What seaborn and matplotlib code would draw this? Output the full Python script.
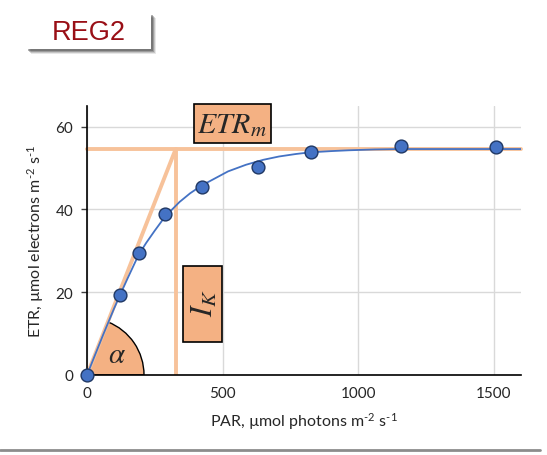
import matplotlib
matplotlib.use("Agg")
import matplotlib.pyplot as plt
import matplotlib.transforms as mtrans
from matplotlib.patches import Rectangle, Wedge
from matplotlib.lines import Line2D
import numpy as np
import pandas as pd
import seaborn as sns

# measured points
par = [0, 123, 190, 288, 423, 631, 824, 1157, 1506]
etr = [0, 19.3, 29.6, 39.0, 45.4, 50.3, 53.9, 55.3, 55.0]

# fitted curve
par_fit = [0, 30, 60, 100, 123, 150, 190, 218, 250, 288, 341, 380, 423, 463,
           520, 586, 650, 708, 770, 822, 900, 965, 1060, 1157, 1334, 1600]
etr_fit = [0, 4.9, 9.8, 16.1, 19.5, 23.4, 29.0, 31.9, 34.9, 38.3, 41.8, 43.9,
           45.8, 47.2, 49.2, 50.8, 52.0, 52.8, 53.4, 53.8, 54.1, 54.3, 54.5,
           54.6, 54.6, 54.6]

etr_max = 54.6
i_k = 327

ORANGE = '#F4B183'
LINE_OR = '#F7C29A'
BLUE = '#4472C4'

sns.set_theme(style='white')
plt.rcParams['font.family'] = ['Lato', 'DejaVu Sans']
plt.rcParams['mathtext.fontset'] = 'custom'
plt.rcParams['mathtext.rm'] = 'Lato'
plt.rcParams['mathtext.it'] = 'Lato:italic'

fig = plt.figure(figsize=(5.47, 4.56), dpi=100)
W, H = 547, 456
ax = fig.add_axes([87 / W, 1 - 376 / H, (521 - 87) / W, (376 - 107) / H])

# alpha / Ik / ETRm construction lines
ax.plot([0, i_k], [0, etr_max], color=LINE_OR, lw=2.8, zorder=2, solid_capstyle='butt')
ax.plot([0, 1600], [etr_max, etr_max], color=LINE_OR, lw=2.8, zorder=2, clip_on=False)
ax.plot([i_k, i_k], [0, etr_max], color=LINE_OR, lw=2.8, zorder=2)

# fitted curve and points
fit = pd.DataFrame({'PAR': par_fit, 'ETR': etr_fit})
sns.lineplot(data=fit, x='PAR', y='ETR', ax=ax, color=BLUE, lw=1.3, zorder=3)
pts = pd.DataFrame({'PAR': par, 'ETR': etr})
sns.scatterplot(data=pts, x='PAR', y='ETR', ax=ax, color=BLUE, edgecolor='#203864',
                linewidth=1, s=85, zorder=4, clip_on=False)

ax.set_xlim(0, 1600)
ax.set_ylim(0, 65)
ax.set_xticks([0, 500, 1000, 1500])
ax.set_yticks([0, 20, 40, 60])
ax.grid(True, color='#D9D9D9', lw=1)
ax.set_axisbelow(True)
for s in ['top', 'right']:
    ax.spines[s].set_visible(False)
for s in ['left', 'bottom']:
    ax.spines[s].set_color('black')
    ax.spines[s].set_linewidth(1.2)
ax.tick_params(axis='x', length=0, pad=8, labelsize=11, labelcolor='#262626')
ax.tick_params(axis='y', length=4, width=1, color='#404040', pad=6, labelsize=11,
               labelcolor='#262626', left=True)

ax.set_xlabel(r'PAR, µmol photons m$^{\text{-}2}$ s$^{\text{-}1}$', fontsize=11.5,
              color='#262626', labelpad=7)
ax.set_ylabel(r'ETR, µmol electrons m$^{\text{-}2}$ s$^{\text{-}1}$', fontsize=11.5,
              color='#262626', labelpad=7)

# alpha wedge (drawn in inches around the data origin)
fig.canvas.draw()
p0 = ax.transData.transform((0, 0))
p1 = ax.transData.transform((i_k, etr_max))
theta = np.degrees(np.arctan2(p1[1] - p0[1], p1[0] - p0[0]))
trans = fig.dpi_scale_trans + mtrans.ScaledTranslation(0, 0, ax.transData)
ax.add_patch(Wedge((0, 0), 0.57, 0, theta, facecolor=ORANGE, edgecolor='black',
                   lw=1, transform=trans, zorder=1.5))
ax.text(112, 5.0, r'$\alpha$', math_fontfamily='stix', fontsize=21,
        ha='center', va='center', zorder=3)

# ETRm label box
fig.patches.append(Rectangle((194 / W, 1 - 144 / H), 77 / W, 39 / H, transform=fig.transFigure,
                             facecolor=ORANGE, edgecolor='black', lw=1.2, zorder=5))
fig.text(232 / W, 1 - 125 / H, '$ETR_m$', math_fontfamily='stix', fontsize=21.5,
         ha='center', va='center', zorder=6)

# Ik label box
fig.patches.append(Rectangle((183 / W, 1 - 343 / H), 39 / W, 76 / H, transform=fig.transFigure,
                             facecolor=ORANGE, edgecolor='black', lw=1.2, zorder=5))
fig.text(204 / W, 1 - 303 / H, '$I_K$', math_fontfamily='stix', fontsize=22, rotation=90,
         ha='center', va='center', zorder=6)

# title box with soft shadow
for k, a in [(5, 0.12), (4, 0.2), (3, 0.3), (2, 0.4)]:
    fig.patches.append(Rectangle(((26 + k) / W, 1 - (50 + k) / H), 125 / W, 36 / H,
                                 transform=fig.transFigure, facecolor='#404040',
                                 edgecolor='none', alpha=a, zorder=1))
fig.patches.append(Rectangle((26 / W, 1 - 50 / H), 125 / W, 36 / H, transform=fig.transFigure,
                             facecolor='white', edgecolor='none', zorder=2))
fig.text(89 / W, 1 - 33 / H, 'REG2', fontfamily='Liberation Sans', fontsize=19.5,
         color='#990F16', ha='center', va='center', zorder=3)

# bottom separator
fig.add_artist(Line2D([0, 540 / W], [1 - 451 / H, 1 - 451 / H], color='#8C8C8C', lw=2,
                      transform=fig.transFigure))

fig.savefig('out.png', dpi=100)
